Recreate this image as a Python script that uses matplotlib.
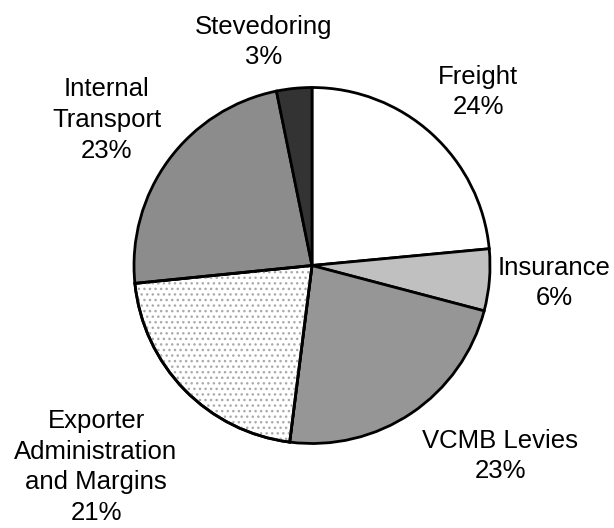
import matplotlib

matplotlib.use("Agg")
import matplotlib.pyplot as plt
from matplotlib.patches import Wedge

labels = ["Freight", "Insurance", "VCMB Levies",
          "Exporter\nAdministration\nand Margins", "Internal\nTransport", "Stevedoring"]
shares = [23.5, 5.6, 22.9, 21.4, 23.4, 3.2]
colors = ["#ffffff", "#c0c0c0", "#969696", "#ffffff", "#8c8c8c", "#333333"]

# where each label sits (pixels, origin bottom-left)
label_pos = [(478, 436), (554, 245), (500, 72), (96, 61), (107, 408), (264, 486)]

plt.rcParams["font.family"] = ["Liberation Sans", "DejaVu Sans"]

fig = plt.figure(figsize=(6.14, 5.28), dpi=100)
ax = fig.add_axes([0, 0, 1, 1])

wedges, _ = ax.pie(shares, colors=colors, startangle=90, counterclock=False,
                   center=(312, 262.5), radius=178, frame=True,
                   wedgeprops=dict(edgecolor="black", linewidth=2))
ax.set_xlim(0, 614)
ax.set_ylim(0, 528)
ax.set_aspect("equal")
ax.axis("off")

# dotted fill for the exporter slice
w = wedges[3]
dots = Wedge(w.center, w.r, w.theta1, w.theta2, facecolor="none",
             edgecolor="#aaaaaa", linewidth=0, hatch="...", zorder=w.zorder + 0.1)
ax.add_patch(dots)
outline = Wedge(w.center, w.r, w.theta1, w.theta2, facecolor="none",
                edgecolor="black", linewidth=2, zorder=w.zorder + 0.2)
ax.add_patch(outline)

for lab, s, (x, y) in zip(labels, shares, label_pos):
    ax.text(x, y, f"{lab}\n{s:.0f}%", ha="center", va="center", fontsize=18.5,
            linespacing=1.35)

fig.savefig("out.png", dpi=100)
